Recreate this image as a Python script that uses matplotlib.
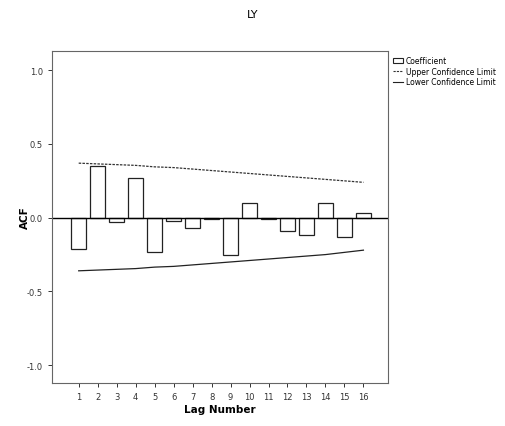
import matplotlib.pyplot as plt
from matplotlib.patches import Patch
from matplotlib.lines import Line2D

lags = list(range(1, 17))
acf = [-0.21, 0.35, -0.03, 0.27, -0.23, -0.02, -0.07, -0.01,
       -0.25, 0.10, -0.01, -0.09, -0.12, 0.10, -0.13, 0.03]
upper = [0.37, 0.365, 0.36, 0.355, 0.345, 0.34, 0.33, 0.32,
         0.31, 0.30, 0.29, 0.28, 0.27, 0.26, 0.25, 0.24]
lower = [-0.36, -0.355, -0.35, -0.345, -0.335, -0.33, -0.32, -0.31,
         -0.30, -0.29, -0.28, -0.27, -0.26, -0.25, -0.235, -0.22]
yticks = [-1.0, -0.5, 0.0, 0.5, 1.0]

fig = plt.figure(figsize=(5.06, 4.27), dpi=100)
ax = fig.add_axes([0.103, 0.101, 0.664, 0.777])

# bars as outlined boxes, confidence limits as lines
ax.bar(lags, acf, width=0.8, facecolor='white', edgecolor='#222222', linewidth=0.9)
ax.plot(lags, upper, color='#333333', linewidth=0.9, linestyle=(0, (2, 1)))
ax.plot(lags, lower, color='#222222', linewidth=0.9)
ax.axhline(0, color='black', linewidth=1.0)

ax.set_xlim(-0.4, 17.3)
ax.set_ylim(-1.12, 1.13)
ax.set_xticks(lags)
ax.set_yticks(yticks)
ax.set_yticklabels([f'{v:.1f}' for v in yticks])
ax.tick_params(axis='both', labelsize=6, length=3, width=0.7, colors='#333333')

for side in ax.spines.values():
    side.set_linestyle((0, (1, 1)))
    side.set_linewidth(0.8)
    side.set_color('#666666')

fig.text(0.5, 0.965, 'LY', fontsize=8, ha='center', va='center')
ax.set_xlabel('Lag Number', fontsize=7.5, fontweight='bold')
ax.set_ylabel('ACF', fontsize=7.5, fontweight='bold')
ax.xaxis.set_label_coords(0.5, -0.065)
ax.yaxis.set_label_coords(-0.065, 0.5)

handles = [
    Patch(facecolor='white', edgecolor='#222222', linewidth=0.8),
    Line2D([], [], color='#333333', linewidth=0.8, linestyle=(0, (2, 1))),
    Line2D([], [], color='#222222', linewidth=0.8),
]
ax.legend(handles, ['Coefficient', 'Upper Confidence Limit', 'Lower Confidence Limit'],
          loc='upper left', bbox_to_anchor=(1.0, 1.0), frameon=False,
          fontsize=5.5, handlelength=1.2, handletextpad=0.4,
          borderaxespad=0.3, labelspacing=0.2)

fig.savefig('out.png', dpi=100)
